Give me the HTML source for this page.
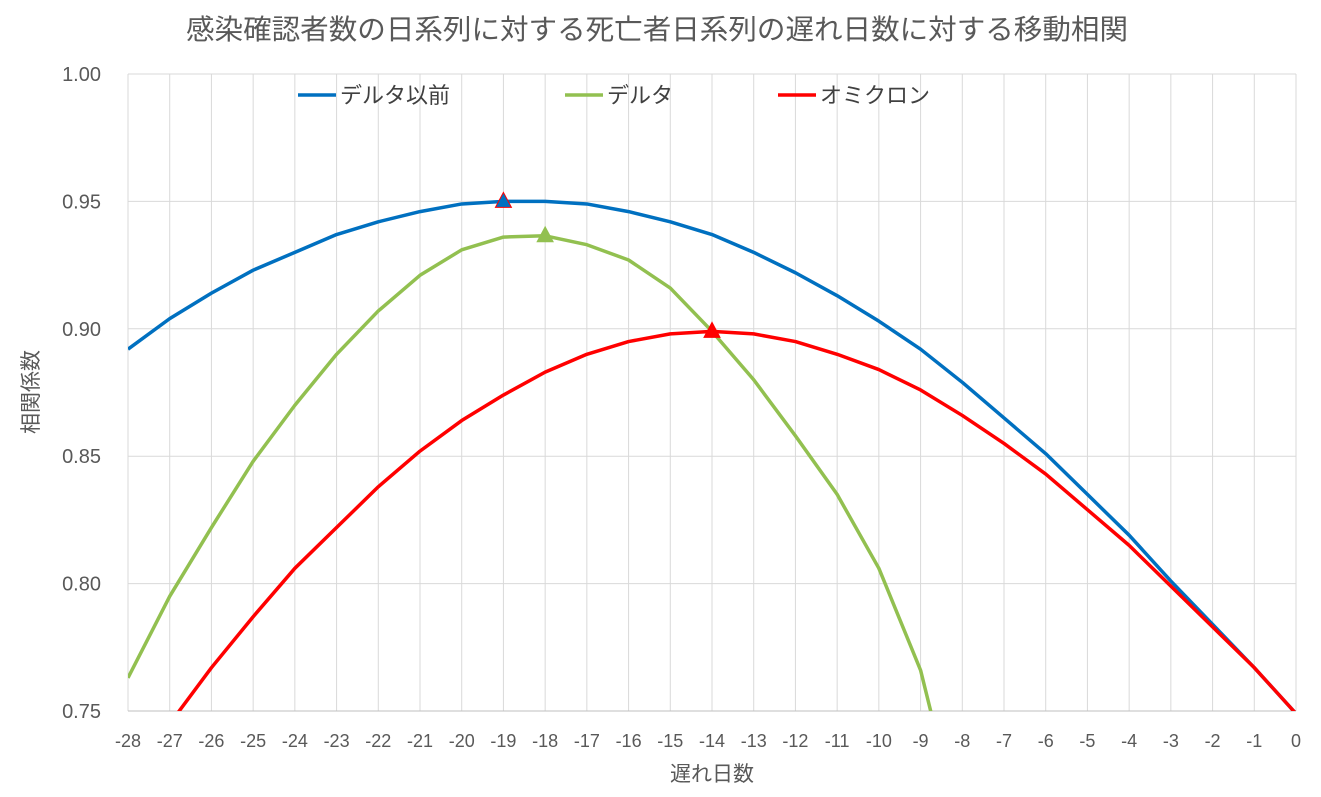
<!DOCTYPE html>
<html><head><meta charset="utf-8"><style>
html,body{margin:0;padding:0;background:#fff;width:1321px;height:797px;overflow:hidden;}
svg{display:block;font-family:"Liberation Sans","Noto Sans CJK JP",sans-serif;}
</style></head><body>
<svg width="1321" height="797" viewBox="0 0 1321 797" xmlns="http://www.w3.org/2000/svg">
<rect width="1321" height="797" fill="#fff"/>
<text x="657" y="39" font-size="28" fill="#595959" text-anchor="middle" textLength="942" lengthAdjust="spacingAndGlyphs">感染確認者数の日系列に対する死亡者日系列の遅れ日数に対する移動相関</text>
<g id="grid" stroke="#d9d9d9" stroke-width="1"></g>
<g id="labels" fill="#595959"></g>
<defs><clipPath id="c"><rect x="128" y="74" width="1168" height="637"/></clipPath></defs>
<g clip-path="url(#c)" fill="none" stroke-width="3.5" stroke-linejoin="round">
<polyline id="b" stroke="#0070c0"/>
<polyline id="g" stroke="#92c050"/>
<polyline id="r" stroke="#ff0000"/>
</g>
<g id="mk"></g>
<text x="38" y="392" font-size="21" fill="#595959" text-anchor="middle" transform="rotate(-90 38 392)">相関係数</text>
<text x="712" y="781" font-size="21" fill="#595959" text-anchor="middle">遅れ日数</text>
<line x1="298" y1="95" x2="336" y2="95" stroke="#0070c0" stroke-width="3.5"/>
<text x="340" y="103" font-size="22" fill="#404040">デルタ以前</text>
<line x1="565" y1="95" x2="603" y2="95" stroke="#92c050" stroke-width="3.5"/>
<text x="607" y="103" font-size="22" fill="#404040">デルタ</text>
<line x1="778" y1="95" x2="816" y2="95" stroke="#ff0000" stroke-width="3.5"/>
<text x="820" y="103" font-size="22" fill="#404040">オミクロン</text>
</svg>
<script>
const X=i=>128+(i+28)*1168/28, Y=v=>74+(1-v)*637/0.25;
const ns="http://www.w3.org/2000/svg";
const grid=document.getElementById('grid'),lab=document.getElementById('labels');
function el(p,t,a,txt){const e=document.createElementNS(ns,t);for(const k in a)e.setAttribute(k,a[k]);if(txt!==undefined)e.textContent=txt;p.appendChild(e);return e;}
for(let i=-28;i<=0;i++){el(grid,'line',{x1:X(i),x2:X(i),y1:74,y2:711});el(lab,'text',{x:X(i),y:747,'text-anchor':'middle','font-size':18},String(i));}
for(let k=0;k<=5;k++){const v=0.75+k*0.05;el(grid,'line',{x1:128,x2:1296,y1:Y(v),y2:Y(v)});el(lab,'text',{x:101,y:Y(v)+7,'text-anchor':'end','font-size':20},v.toFixed(2));}
el(grid,'line',{x1:128,x2:1296,y1:711,y2:711,stroke:'#bfbfbf'});
const B=[.892,.904,.914,.923,.930,.937,.942,.946,.949,.950,.950,.949,.946,.942,.937,.930,.922,.913,.903,.892,.879,.865,.851,.835,.819,.801,.784,.767,.749];
const G=[.763,.795,.822,.848,.870,.890,.907,.921,.931,.936,.9365,.933,.927,.916,.899,.880,.858,.835,.806,.766,.700];
const R=[.723,.745,.767,.787,.806,.822,.838,.852,.864,.874,.883,.890,.895,.898,.899,.898,.895,.890,.884,.876,.866,.855,.843,.829,.815,.799,.783,.767,.749];
function pts(a,s){return a.map((v,j)=>X(s+j)+','+Y(v)).join(' ');}
document.getElementById('b').setAttribute('points',pts(B,-28));
document.getElementById('g').setAttribute('points',pts(G,-28));
document.getElementById('r').setAttribute('points',pts(R.slice(1),-27));
const mk=document.getElementById('mk');
function tri(x,y,f,s){el(mk,'polygon',{points:`${x},${y-9} ${x-8},${y+6} ${x+8},${y+6}`,fill:f,stroke:s,'stroke-width':1});}
tri(X(-19),Y(.950),'#0070c0','#ff0000');
tri(X(-18),Y(.9365),'#92c050','#92c050');
tri(X(-14),Y(.899),'#ff0000','#ff0000');
</script>
</body></html>
